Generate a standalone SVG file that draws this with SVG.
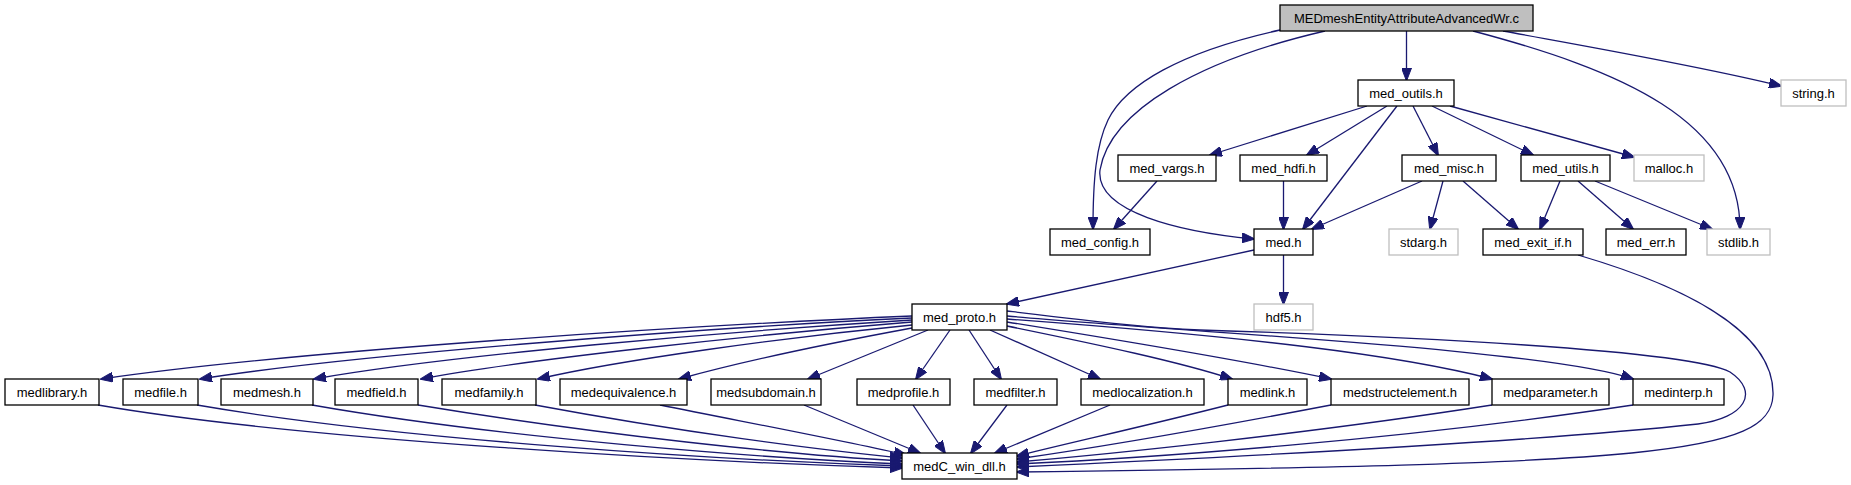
<svg xmlns="http://www.w3.org/2000/svg" width="1851" height="485" viewBox="0 0 1851 485">
<style>
.n rect{fill:#fff;stroke:#000;stroke-width:1.3}
.n.g rect{stroke:#bfbfbf}
.n.root rect{fill:#bfbfbf}
.n text{font-family:"Liberation Sans",Arial,sans-serif;font-size:13px;fill:#000;text-anchor:middle}
#edges path{fill:none;stroke:#191970;stroke-width:1.3;marker-end:url(#ah)}
</style>
<defs>
<marker id="ah" markerWidth="13" markerHeight="10" refX="12" refY="5" orient="auto" markerUnits="userSpaceOnUse">
<path d="M0,0L13,5L0,10z" fill="#191970" stroke="#191970" stroke-width="1"/>
</marker>
</defs>
<rect width="1851" height="485" fill="#fff"/>
<g id="edges">
<path d="M1406.5,31L1406.5,80"/>
<path d="M1503,31C1590,47 1700,66 1781,86"/>
<path d="M1473,31C1620,70 1740,120 1740,229"/>
<path d="M1280,30C1180,52 1125,85 1108,120C1096,145 1093,180 1093,229"/>
<path d="M1325,31C1200,60 1110,110 1100,170C1095,212 1180,232 1254,239"/>
<path d="M1367,106L1210,155"/>
<path d="M1387,106L1307,155"/>
<path d="M1397,106L1303,229"/>
<path d="M1413,106L1438,155"/>
<path d="M1432,106L1533,155"/>
<path d="M1450,106L1634,157"/>
<path d="M1157,181L1114,229"/>
<path d="M1283.5,181L1283.5,229"/>
<path d="M1422,181L1312,229"/>
<path d="M1443,181L1430,229"/>
<path d="M1463,181L1518,229"/>
<path d="M1560,181L1540,229"/>
<path d="M1578,181L1633,229"/>
<path d="M1595,181L1712,229"/>
<path d="M1254,250L1007,304"/>
<path d="M1283.5,255L1283.5,304"/>
<path d="M1578,255C1680,285 1775,330 1773,395C1771,455 1650,464 1017,472"/>
<path d="M1007,311C1100,322 1150,328 1200,330C1400,336 1690,350 1730,372C1760,392 1745,418 1698,424C1550,440 1300,454 1017,467"/>
<path d="M912,316C700,325 300,350 101,379"/>
<path d="M912,318C700,328 350,355 200,379"/>
<path d="M912,320C720,332 450,355 314,379"/>
<path d="M912,322C750,335 520,360 421,379"/>
<path d="M912,325C780,338 620,360 538,379"/>
<path d="M912,328C820,345 740,362 679,379"/>
<path d="M928,330L808,379"/>
<path d="M950,330L916,379"/>
<path d="M969,330L1001,379"/>
<path d="M990,330L1100,379"/>
<path d="M1007,326C1100,345 1180,362 1232,379"/>
<path d="M1007,322C1150,345 1250,362 1331,379"/>
<path d="M1007,319C1250,337 1400,355 1492,379"/>
<path d="M1007,316C1200,333 1550,350 1633,379"/>
<path d="M98,405C300,440 700,462 902,468"/>
<path d="M197,405C400,440 720,460 902,466"/>
<path d="M312,405C500,438 760,458 902,464"/>
<path d="M418,405C600,435 790,455 902,461"/>
<path d="M535,405C680,432 820,450 902,458"/>
<path d="M660,405C760,425 850,442 906,455"/>
<path d="M804,405L920,453"/>
<path d="M913,405L945,453"/>
<path d="M1007,405L971,453"/>
<path d="M1110,405L995,453"/>
<path d="M1228,405C1150,425 1060,445 1017,456"/>
<path d="M1331,405C1200,430 1080,450 1017,459"/>
<path d="M1492,405C1300,435 1100,455 1017,462"/>
<path d="M1633,405C1400,440 1150,458 1017,464"/>
</g>
<g id="n_root" class="n root"><rect x="1280" y="5" width="253" height="26"/><text x="1406.5" y="22.5">MEDmeshEntityAttributeAdvancedWr.c</text></g>
<g id="n_med_outils" class="n"><rect x="1358" y="80" width="96" height="26"/><text x="1406" y="97.5">med_outils.h</text></g>
<g id="n_string" class="n g"><rect x="1781" y="80" width="65" height="26"/><text x="1813.5" y="97.5">string.h</text></g>
<g id="n_med_vargs" class="n"><rect x="1118" y="155" width="98" height="26"/><text x="1167" y="172.5">med_vargs.h</text></g>
<g id="n_med_hdfi" class="n"><rect x="1240" y="155" width="87" height="26"/><text x="1283.5" y="172.5">med_hdfi.h</text></g>
<g id="n_med_misc" class="n"><rect x="1402" y="155" width="94" height="26"/><text x="1449" y="172.5">med_misc.h</text></g>
<g id="n_med_utils" class="n"><rect x="1521" y="155" width="89" height="26"/><text x="1565.5" y="172.5">med_utils.h</text></g>
<g id="n_malloc" class="n g"><rect x="1634" y="155" width="70" height="26"/><text x="1669" y="172.5">malloc.h</text></g>
<g id="n_med_config" class="n"><rect x="1050" y="229" width="100" height="26"/><text x="1100" y="246.5">med_config.h</text></g>
<g id="n_med" class="n"><rect x="1254" y="229" width="59" height="26"/><text x="1283.5" y="246.5">med.h</text></g>
<g id="n_stdarg" class="n g"><rect x="1389" y="229" width="69" height="26"/><text x="1423.5" y="246.5">stdarg.h</text></g>
<g id="n_med_exit_if" class="n"><rect x="1483" y="229" width="100" height="26"/><text x="1533" y="246.5">med_exit_if.h</text></g>
<g id="n_med_err" class="n"><rect x="1606" y="229" width="80" height="26"/><text x="1646" y="246.5">med_err.h</text></g>
<g id="n_stdlib" class="n g"><rect x="1707" y="229" width="63" height="26"/><text x="1738.5" y="246.5">stdlib.h</text></g>
<g id="n_med_proto" class="n"><rect x="912" y="304" width="95" height="26"/><text x="959.5" y="321.5">med_proto.h</text></g>
<g id="n_hdf5" class="n g"><rect x="1254" y="304" width="59" height="26"/><text x="1283.5" y="321.5">hdf5.h</text></g>
<g id="n_medlibrary" class="n"><rect x="5" y="379" width="94" height="26"/><text x="52" y="396.5">medlibrary.h</text></g>
<g id="n_medfile" class="n"><rect x="123" y="379" width="75" height="26"/><text x="160.5" y="396.5">medfile.h</text></g>
<g id="n_medmesh" class="n"><rect x="221" y="379" width="92" height="26"/><text x="267" y="396.5">medmesh.h</text></g>
<g id="n_medfield" class="n"><rect x="335" y="379" width="83" height="26"/><text x="376.5" y="396.5">medfield.h</text></g>
<g id="n_medfamily" class="n"><rect x="442" y="379" width="94" height="26"/><text x="489" y="396.5">medfamily.h</text></g>
<g id="n_medequivalence" class="n"><rect x="560" y="379" width="127" height="26"/><text x="623.5" y="396.5">medequivalence.h</text></g>
<g id="n_medsubdomain" class="n"><rect x="711" y="379" width="110" height="26"/><text x="766" y="396.5">medsubdomain.h</text></g>
<g id="n_medprofile" class="n"><rect x="857" y="379" width="93" height="26"/><text x="903.5" y="396.5">medprofile.h</text></g>
<g id="n_medfilter" class="n"><rect x="974" y="379" width="83" height="26"/><text x="1015.5" y="396.5">medfilter.h</text></g>
<g id="n_medlocalization" class="n"><rect x="1081" y="379" width="123" height="26"/><text x="1142.5" y="396.5">medlocalization.h</text></g>
<g id="n_medlink" class="n"><rect x="1228" y="379" width="79" height="26"/><text x="1267.5" y="396.5">medlink.h</text></g>
<g id="n_medstructelement" class="n"><rect x="1331" y="379" width="138" height="26"/><text x="1400" y="396.5">medstructelement.h</text></g>
<g id="n_medparameter" class="n"><rect x="1492" y="379" width="117" height="26"/><text x="1550.5" y="396.5">medparameter.h</text></g>
<g id="n_medinterp" class="n"><rect x="1633" y="379" width="91" height="26"/><text x="1678.5" y="396.5">medinterp.h</text></g>
<g id="n_medC_win_dll" class="n"><rect x="902" y="453" width="115" height="26"/><text x="959.5" y="470.5">medC_win_dll.h</text></g>
</svg>
